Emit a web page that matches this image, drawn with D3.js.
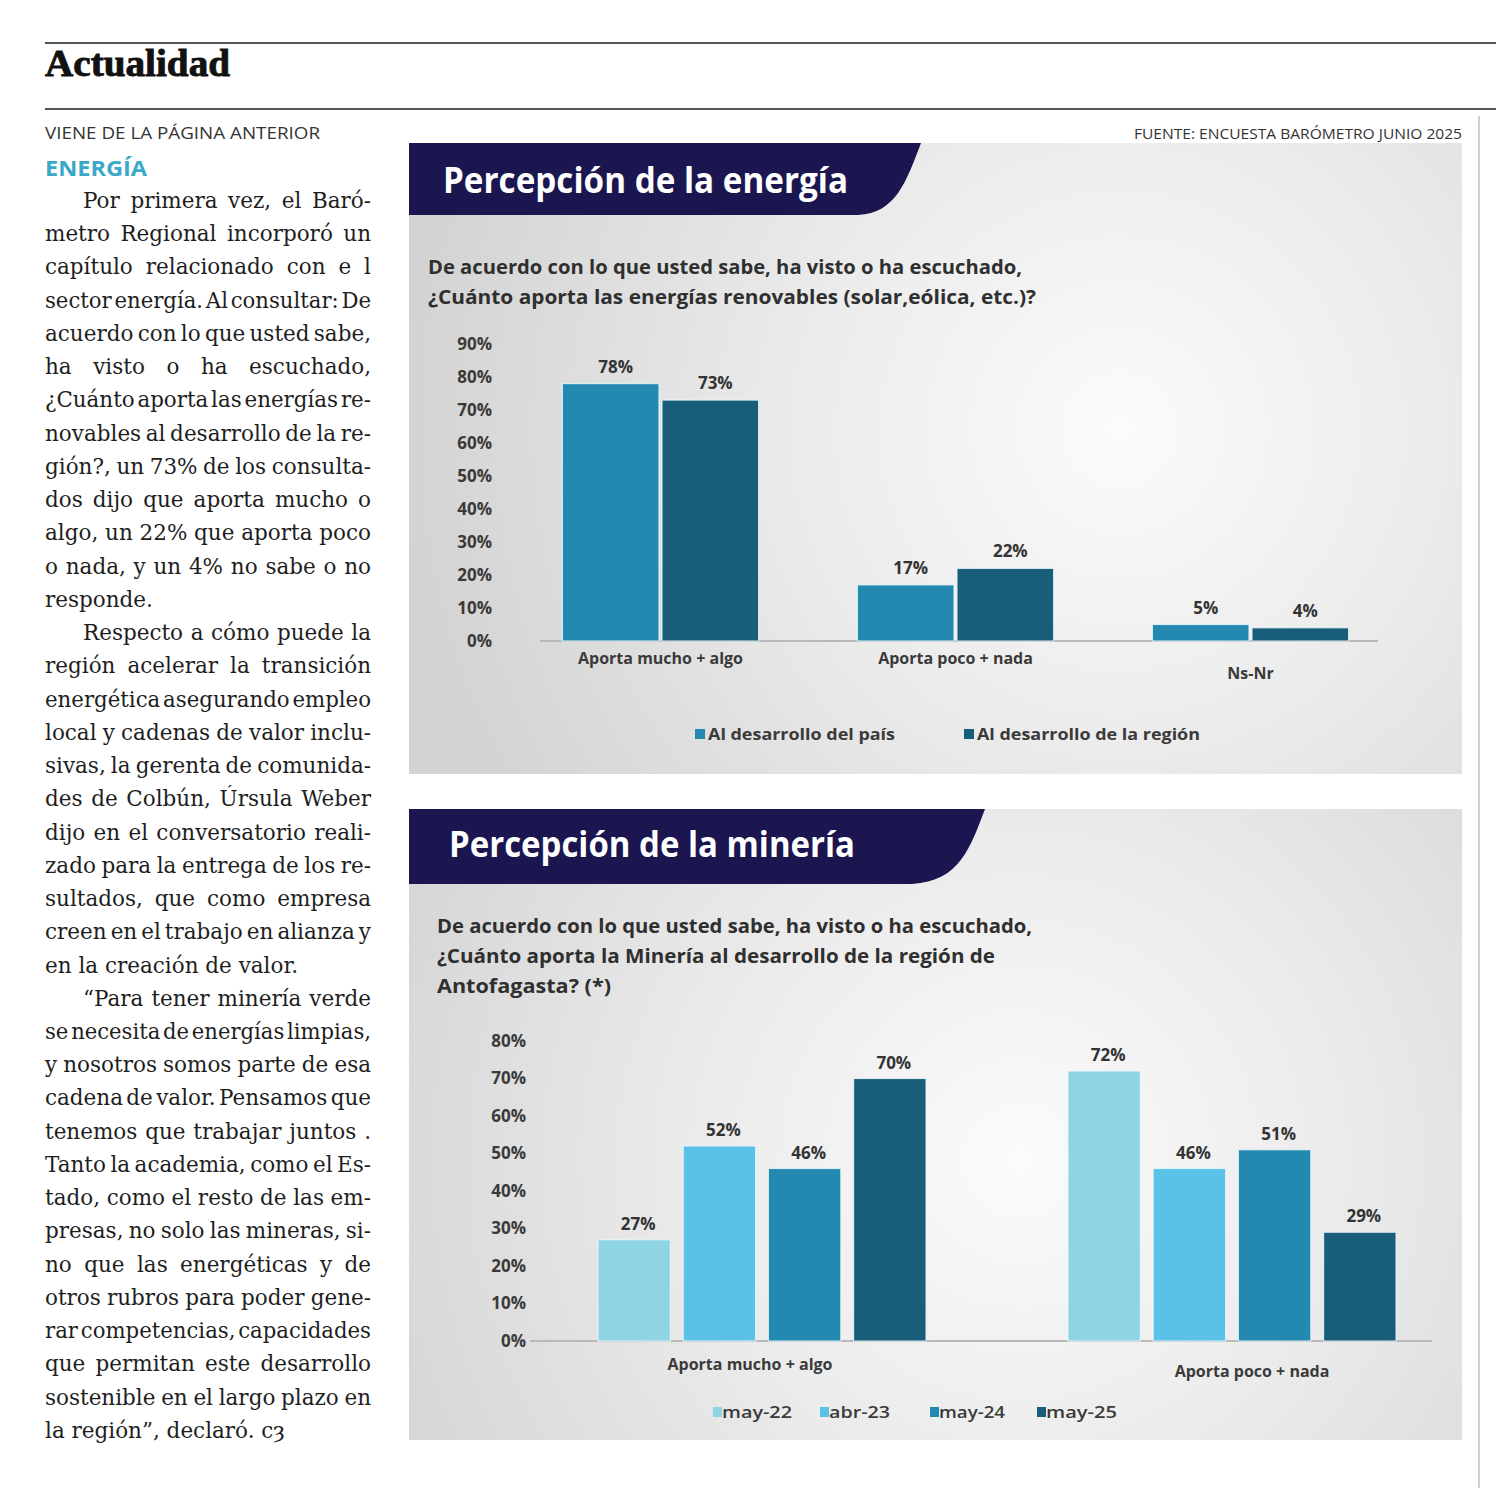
<!DOCTYPE html>
<html lang="es">
<head>
<meta charset="utf-8">
<script src="https://cdn.jsdelivr.net/npm/d3@7"></script>
<style>
  html, body { margin: 0; padding: 0; background: #ffffff; }
  svg { display: block; }
</style>
</head>
<body>
<div id="page"></div>
<script>
// ---------- DATA ----------
const energyCategories = ["Aporta mucho + algo", "Aporta poco + nada", "Ns-Nr"];
const energySeries = ["Al desarrollo del país", "Al desarrollo de la región"];
const energyPais = [78, 17, 5];
const energyRegion = [73, 22, 4];
const energyTicks = [0, 10, 20, 30, 40, 50, 60, 70, 80, 90];

const miningCategories = ["Aporta mucho + algo", "Aporta poco + nada"];
const miningSeries = ["may-22", "abr-23", "may-24", "may-25"];
const miningMay22 = [27, 72];
const miningAbr23 = [52, 46];
const miningMay24 = [46, 51];
const miningMay25 = [70, 29];
const miningTicks = [0, 10, 20, 30, 40, 50, 60, 70, 80];

const energyTitle = "Percepción de la energía";
const energyQuestion = [
  "De acuerdo con lo que usted sabe, ha visto o ha escuchado,",
  "¿Cuánto aporta las energías renovables (solar,eólica, etc.)?"
];
const miningTitle = "Percepción de la minería";
const miningQuestion = [
  "De acuerdo con lo que usted sabe, ha visto o ha escuchado,",
  "¿Cuánto aporta la Minería al desarrollo de la región de",
  "Antofagasta? (*)"
];
const sourceNote = "FUENTE: ENCUESTA BARÓMETRO JUNIO 2025";

const bodyParagraphs = [
  ["Por primera vez, el Baró-",
   "metro Regional incorporó un",
   "capítulo relacionado con e l",
   "sector energía. Al consultar: De",
   "acuerdo con lo que usted sabe,",
   "ha visto o ha escuchado,",
   "¿Cuánto aporta las energías re-",
   "novables al desarrollo de la re-",
   "gión?, un 73% de los consulta-",
   "dos dijo que aporta mucho o",
   "algo, un 22% que aporta poco",
   "o nada, y un 4% no sabe o no",
   "responde."],
  ["Respecto a cómo puede la",
   "región acelerar la transición",
   "energética asegurando empleo",
   "local y cadenas de valor inclu-",
   "sivas, la gerenta de comunida-",
   "des de Colbún, Úrsula Weber",
   "dijo en el conversatorio reali-",
   "zado para la entrega de los re-",
   "sultados, que como empresa",
   "creen en el trabajo en alianza y",
   "en la creación de valor."],
  ["“Para tener minería verde",
   "se necesita de energías limpias,",
   "y nosotros somos parte de esa",
   "cadena de valor. Pensamos que",
   "tenemos que trabajar juntos .",
   "Tanto la academia, como el Es-",
   "tado, como el resto de las em-",
   "presas, no solo las mineras, si-",
   "no que las energéticas y de",
   "otros rubros para poder gene-",
   "rar competencias, capacidades",
   "que permitan este desarrollo",
   "sostenible en el largo plazo en",
   "la región”, declaró. cȝ"]
];

// ---------- STYLE ----------
const W = 1496, H = 1488;
const NAVY = "#1b1650";
const energyColors = ["#2489b0", "#185d79"];
const miningColors = ["#8fd4e4", "#5bc2e7", "#2389b0", "#185d79"];
const SANS = "'Open Sans', 'Noto Sans', sans-serif";
const SERIF = "'DejaVu Serif', 'Liberation Serif', serif";
const HEAD_SERIF = "'Liberation Serif', 'DejaVu Serif', serif";

const svg = d3.select("#page").append("svg")
  .attr("width", W).attr("height", H)
  .attr("viewBox", `0 0 ${W} ${H}`);

const defs = svg.append("defs");
function radial(id, cx, cy, r) {
  const g = defs.append("radialGradient").attr("id", id)
    .attr("gradientUnits", "userSpaceOnUse")
    .attr("cx", cx).attr("cy", cy).attr("r", r);
  g.append("stop").attr("offset", 0).attr("stop-color", "#fbfbfb");
  g.append("stop").attr("offset", 0.45).attr("stop-color", "#ebebeb");
  g.append("stop").attr("offset", 1).attr("stop-color", "#d3d3d3");
}
radial("bg1", 1120, 430, 720);
radial("bg2", 1020, 1160, 720);

// ---------- PAGE HEADER ----------
svg.append("line").attr("x1", 45).attr("x2", W).attr("y1", 43).attr("y2", 43)
  .attr("stroke", "#555").attr("stroke-width", 2);
svg.append("text").attr("x", 45).attr("y", 76)
  .attr("font-family", HEAD_SERIF).attr("font-weight", 700).attr("font-size", 38)
  .attr("textLength", 185).attr("lengthAdjust", "spacingAndGlyphs")
  .attr("stroke", "#111").attr("stroke-width", 0.9)
  .attr("fill", "#111").text("Actualidad");
svg.append("line").attr("x1", 45).attr("x2", W).attr("y1", 109).attr("y2", 109)
  .attr("stroke", "#555").attr("stroke-width", 2);
svg.append("line").attr("x1", 1479).attr("x2", 1479).attr("y1", 116).attr("y2", H)
  .attr("stroke", "#cfcfcf").attr("stroke-width", 2);

svg.append("text").attr("x", 45).attr("y", 139)
  .attr("font-family", SANS).attr("font-size", 16.5)
  .attr("textLength", 275).attr("lengthAdjust", "spacingAndGlyphs")
  .attr("fill", "#333").text("VIENE DE LA PÁGINA ANTERIOR");
svg.append("text").attr("x", 45).attr("y", 176)
  .attr("font-family", SANS).attr("font-weight", 700).attr("font-size", 21)
  .attr("textLength", 102).attr("lengthAdjust", "spacingAndGlyphs")
  .attr("fill", "#39a8c9").text("ENERGÍA");
svg.append("text").attr("x", 1134).attr("y", 139)
  .attr("font-family", SANS).attr("font-size", 14)
  .attr("textLength", 328).attr("lengthAdjust", "spacingAndGlyphs")
  .attr("fill", "#333").text(sourceNote);

// ---------- BODY TEXT (justified with word spacing) ----------
(function () {
  const colL = 45, colR = 371, indent = 38, pitch = 33.24;
  let idx = 0;
  const g = svg.append("g").attr("font-family", SERIF).attr("font-size", 21.5).attr("fill", "#1e1e1e");
  bodyParagraphs.forEach(par => {
    par.forEach((line, i) => {
      const x = colL + (i === 0 ? indent : 0);
      const last = i === par.length - 1;
      const t = g.append("text").attr("x", x).attr("y", 208 + idx * pitch).text(line);
      const natural = t.node().getComputedTextLength();
      const target = colR - x;
      const spaces = (line.match(/ /g) || []).length;
      if (!last) {
        let ws = spaces > 0 ? (target - natural) / spaces : 0;
        if (ws < -4) {
          ws = -4;
          t.attr("word-spacing", ws);
          t.attr("textLength", target).attr("lengthAdjust", "spacingAndGlyphs");
        } else if (spaces > 0) {
          t.attr("word-spacing", ws);
        }
      } else if (natural > target) {
        t.attr("textLength", target).attr("lengthAdjust", "spacingAndGlyphs");
      }
      idx++;
    });
  });
})();

// ---------- PANEL HELPERS ----------
function panel(y0, y1, bannerPath, grad) {
  svg.append("rect").attr("x", 409).attr("y", y0).attr("width", 1462 - 409).attr("height", y1 - y0)
    .attr("fill", `url(#${grad})`);
  svg.append("path").attr("d", bannerPath).attr("fill", NAVY);
}
function title(txt, x, y, len) {
  svg.append("text").attr("x", x).attr("y", y)
    .attr("font-family", SANS).attr("font-weight", 700).attr("font-size", 35)
    .attr("textLength", len).attr("lengthAdjust", "spacingAndGlyphs")
    .attr("fill", "#ffffff").text(txt);
}
function question(lines, x, y0, widths) {
  lines.forEach((l, i) => {
    svg.append("text").attr("x", x).attr("y", y0 + i * 30)
      .attr("font-family", SANS).attr("font-weight", 700).attr("font-size", 19)
      .attr("textLength", widths[i]).attr("lengthAdjust", "spacingAndGlyphs")
      .attr("fill", "#2f2f2f").text(l);
  });
}
function styleAxisText(sel, size) {
  sel.selectAll("text").attr("font-family", SANS).attr("font-weight", 700)
    .attr("font-size", size).attr("fill", "#3a3a3a");
}

// ================= CHART 1: ENERGÍA =================
panel(143, 774, "M409,143 H921 C906,182 896,213 858,215 H409 Z", "bg1");
title(energyTitle, 443, 193, 405);
question(energyQuestion, 428, 274, [594, 608]);

const eVals = [energyPais, energyRegion];
const y1 = d3.scaleLinear().domain([0, 90]).range([641, 344]);
const x1 = d3.scaleBand().domain(energyCategories).range([513, 1398]).paddingInner(0.335).paddingOuter(0.1675);
const x1s = d3.scaleBand().domain(energySeries).range([0, x1.bandwidth()]).paddingInner(0.03);

const ax1 = svg.append("g").attr("transform", "translate(494,0)")
  .call(d3.axisLeft(y1).tickValues(energyTicks).tickSize(0).tickPadding(2).tickFormat(d => d + "%"));
ax1.select(".domain").remove();
styleAxisText(ax1, 17);

svg.append("line").attr("x1", 540).attr("x2", 1378).attr("y1", y1(0)).attr("y2", y1(0))
  .attr("stroke", "#b9b9b9").attr("stroke-width", 2);

const bx1 = svg.append("g").attr("transform", `translate(0,${y1(0)})`)
  .call(d3.axisBottom(x1).tickSize(0).tickPadding(12));
bx1.select(".domain").remove();
styleAxisText(bx1, 16);
bx1.selectAll(".tick text").attr("dy", (d, i) => i === 2 ? "1.6em" : "0.71em");

energySeries.forEach((s, si) => {
  const vals = eVals[si];
  const g = svg.append("g");
  g.selectAll("rect").data(energyCategories).join("rect")
    .attr("x", c => x1(c) + x1s(s))
    .attr("y", (c, i) => y1(vals[i]))
    .attr("width", x1s.bandwidth())
    .attr("height", (c, i) => y1(0) - y1(vals[i]))
    .attr("fill", energyColors[si])
    .attr("stroke", "rgba(235,248,252,0.8)").attr("stroke-width", 1.2);
  g.selectAll("text").data(energyCategories).join("text")
    .attr("x", c => x1(c) + x1s(s) + x1s.bandwidth() / 2 + 5)
    .attr("y", (c, i) => y1(vals[i]) - 11)
    .attr("text-anchor", "middle")
    .attr("font-family", SANS).attr("font-weight", 700).attr("font-size", 17)
    .attr("fill", "#333")
    .text((c, i) => vals[i] + "%");
});

// legend 1
(function () {
  const lg = svg.append("g").attr("transform", "translate(695,734)");
  const item = lg.selectAll("g").data(energySeries).join("g")
    .attr("transform", (d, i) => `translate(${i * 269},0)`);
  item.append("rect").attr("x", 0).attr("y", -5).attr("width", 10).attr("height", 10)
    .attr("fill", (d, i) => energyColors[i]);
  item.append("text").attr("x", 13).attr("y", 6)
    .attr("font-family", SANS).attr("font-weight", 700).attr("font-size", 16)
    .attr("textLength", (d, i) => [187, 223][i]).attr("lengthAdjust", "spacingAndGlyphs")
    .attr("fill", "#3a3a3a").text(d => d);
})();

// ================= CHART 2: MINERÍA =================
panel(809, 1440, "M409,809 H985 C970,848 960,881 912,884 H409 Z", "bg2");
title(miningTitle, 449, 857, 406);
question(miningQuestion, 437, 933, [595, 558, 174]);

const mVals = [miningMay22, miningAbr23, miningMay24, miningMay25];
const y2 = d3.scaleLinear().domain([0, 80]).range([1341, 1041]);
const x2 = d3.scaleBand().domain(miningCategories).range([527, 1467]).paddingInner(0.302).paddingOuter(0.151);
const x2s = d3.scaleBand().domain(miningSeries).range([0, x2.bandwidth()]).paddingInner(0.15);

const ax2 = svg.append("g").attr("transform", "translate(528,0)")
  .call(d3.axisLeft(y2).tickValues(miningTicks).tickSize(0).tickPadding(2).tickFormat(d => d + "%"));
ax2.select(".domain").remove();
styleAxisText(ax2, 17);

svg.append("line").attr("x1", 530).attr("x2", 1432).attr("y1", y2(0)).attr("y2", y2(0))
  .attr("stroke", "#b9b9b9").attr("stroke-width", 2);

const bx2 = svg.append("g").attr("transform", `translate(0,${y2(0)})`)
  .call(d3.axisBottom(x2).tickSize(0).tickPadding(18));
bx2.select(".domain").remove();
styleAxisText(bx2, 16);
bx2.selectAll(".tick text").attr("dx", (d, i) => i === 0 ? -12 : 20)
  .attr("dy", (d, i) => i === 0 ? "0.71em" : "1.1em");

miningSeries.forEach((s, si) => {
  const vals = mVals[si];
  const g = svg.append("g");
  g.selectAll("rect").data(miningCategories).join("rect")
    .attr("x", c => x2(c) + x2s(s))
    .attr("y", (c, i) => y2(vals[i]))
    .attr("width", x2s.bandwidth())
    .attr("height", (c, i) => y2(0) - y2(vals[i]))
    .attr("fill", miningColors[si])
    .attr("stroke", "rgba(235,248,252,0.8)").attr("stroke-width", 1.2);
  g.selectAll("text").data(miningCategories).join("text")
    .attr("x", c => x2(c) + x2s(s) + x2s.bandwidth() / 2 + 4)
    .attr("y", (c, i) => y2(vals[i]) - 10)
    .attr("text-anchor", "middle")
    .attr("font-family", SANS).attr("font-weight", 700).attr("font-size", 17)
    .attr("fill", "#333")
    .text((c, i) => vals[i] + "%");
});

// legend 2
(function () {
  const lg = svg.append("g").attr("transform", "translate(713,1412)");
  const item = lg.selectAll("g").data(miningSeries).join("g")
    .attr("transform", (d, i) => `translate(${[0, 107, 217, 324][i]},0)`);
  item.append("rect").attr("x", 0).attr("y", -5).attr("width", 9).attr("height", 10)
    .attr("fill", (d, i) => miningColors[i]);
  item.append("text").attr("x", 9).attr("y", 6)
    .attr("font-family", SANS).attr("font-weight", 600).attr("font-size", 16)
    .attr("textLength", (d, i) => [70, 61, 66, 71][i]).attr("lengthAdjust", "spacingAndGlyphs")
    .attr("fill", "#3a3a3a").text(d => d);
})();
</script>
</body>
</html>
